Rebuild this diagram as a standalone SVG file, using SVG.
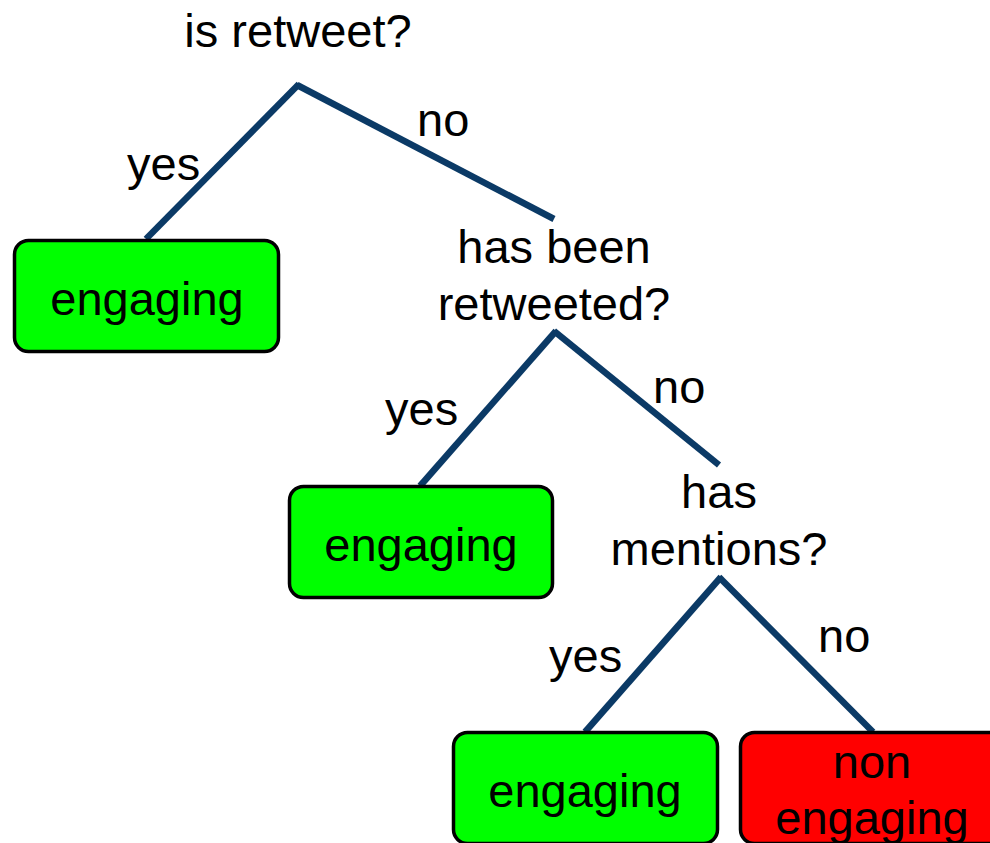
<svg xmlns="http://www.w3.org/2000/svg" width="990" height="843" viewBox="0 0 990 843">
<style>
text{font-family:"Liberation Sans",Arial,sans-serif;font-size:47px;fill:#000;}
.c{text-anchor:middle;}
.leaf{stroke:#000;stroke-width:3.5;}
.g{fill:#00ff00;}
.r{fill:#ff0000;}
.edge{stroke:#0b3a66;stroke-width:6.5;fill:none;stroke-linecap:butt;}
</style>
<rect width="990" height="843" fill="#fff"/>
<g id="connectors">
<line class="edge" x1="146" y1="239" x2="299" y2="84"/>
<line class="edge" x1="297" y1="85" x2="554" y2="219"/>
<line class="edge" x1="420" y1="486" x2="556" y2="331"/>
<line class="edge" x1="554" y1="331" x2="719" y2="465"/>
<line class="edge" x1="585" y1="732" x2="721" y2="577"/>
<line class="edge" x1="719" y1="577" x2="873" y2="732"/>
<text x="127" y="180">yes</text>
<text x="417" y="136">no</text>
<text x="385" y="425">yes</text>
<text x="653" y="403">no</text>
<text x="549" y="672">yes</text>
<text x="818" y="652">no</text>
</g>
<g id="q1"><text class="c" x="298" y="47">is retweet?</text></g>
<g id="q2"><text class="c" x="554" y="263">has been</text><text class="c" x="554" y="320">retweeted?</text></g>
<g id="q3"><text class="c" x="719" y="508">has</text><text class="c" x="719" y="565">mentions?</text></g>
<g id="leaf1"><rect class="leaf g" x="14.5" y="240.5" width="264" height="111" rx="14"/><text class="c" x="147" y="315">engaging</text></g>
<g id="leaf2"><rect class="leaf g" x="289.5" y="486.5" width="263" height="111" rx="14"/><text class="c" x="421" y="561">engaging</text></g>
<g id="leaf3"><rect class="leaf g" x="453.5" y="732.5" width="264" height="111" rx="14"/><text class="c" x="585" y="807">engaging</text></g>
<g id="leaf4"><rect class="leaf r" x="740.5" y="732.5" width="264" height="111" rx="14"/><text class="c" x="872" y="778">non</text><text class="c" x="872" y="834">engaging</text></g>
</svg>
